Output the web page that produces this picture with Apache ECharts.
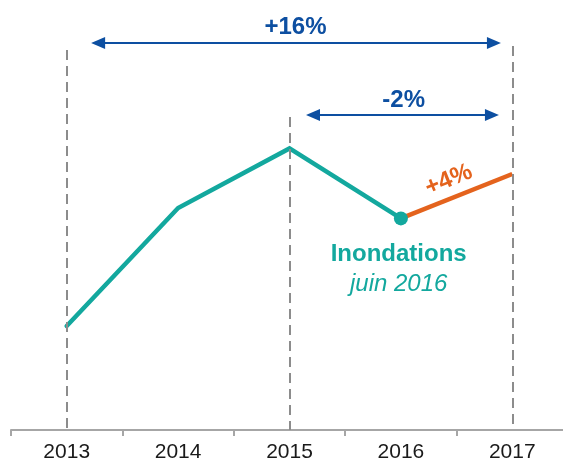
<!DOCTYPE html>
<html>
<head>
<meta charset="utf-8">
<script src="https://cdn.jsdelivr.net/npm/echarts@6/dist/echarts.min.js"></script>
<style>
html,body{margin:0;padding:0;background:#fff;overflow:hidden;}
#chart{width:568px;height:463px;}
</style>
</head>
<body>
<div id="chart"></div>
<script>
// ---- data ----
var years = ['2013', '2014', '2015', '2016', '2017'];
var trendValues = [26, 55.5, 70.4, 52.9, null];
var recentValues = [null, null, null, 52.9, 64];
var eventPoint = ['2016', 52.9];
// reference guides: [x index, top value]
var guideLines = [[0, 95], [2, 78.25], [4, 96]];
// arrows: [x start, x end, level]
var arrow16 = [0.282, 3.835, 96.75];
var arrow2 = [2.211, 3.817, 78.75];
// annotation labels: [x, y, text]
var labelGrowth16 = [2.054, 100.75, '+16%'];
var labelGrowth2 = [3.025, 82.5, '-2%'];
var labelGrowth4 = [3.43, 62.5, '+4%'];
var labelEvent = [2.98, 44, 'Inondations'];
var labelEventDate = [2.98, 36.5, 'juin 2016'];

var TEAL = '#13a89e';
var ORANGE = '#e4631d';
var BLUE = '#0d4fa1';
var GREY = '#8c8c8c';
var FONT = '"Liberation Sans", Arial, sans-serif';

var chart = echarts.init(document.getElementById('chart'), null, {renderer: 'canvas'});

function textPoint(p, style) {
  return {
    coord: [p[0], p[1]],
    symbol: 'circle',
    symbolSize: 1,
    itemStyle: {color: 'rgba(0,0,0,0)'},
    label: Object.assign({
      show: true,
      position: 'inside',
      formatter: p[2],
      fontFamily: FONT
    }, style)
  };
}

var option = {
  animation: false,
  backgroundColor: '#ffffff',
  grid: {left: 11, right: 0, top: 0, bottom: 33},
  xAxis: [{
    type: 'category',
    data: years,
    boundaryGap: true,
    axisLine: {lineStyle: {color: '#a6a6a6', width: 2}},
    axisTick: {show: true, length: 6, lineStyle: {color: '#a6a6a6', width: 2}},
    axisLabel: {color: '#1a1a1a', fontSize: 21, fontFamily: FONT, margin: 12},
    splitLine: {show: false}
  }, {
    type: 'value',
    min: -0.5,
    max: 4.5,
    show: false
  }],
  yAxis: {
    type: 'value',
    min: 0,
    max: 107.5,
    show: false
  },
  series: [
    {
      type: 'line',
      xAxisIndex: 1,
      data: [],
      z: 1,
      markLine: {
        silent: true,
        symbol: ['none', 'none'],
        label: {show: false},
        lineStyle: {color: GREY, width: 2, type: [10, 6]},
        data: guideLines.map(function (g) {
          return [{coord: [g[0], g[1]]}, {coord: [g[0], 0]}];
        })
      }
    },
    {
      type: 'line',
      xAxisIndex: 1,
      data: [],
      z: 2,
      markLine: {
        silent: true,
        symbol: ['triangle', 'triangle'],
        symbolSize: [12, 14],
        label: {show: false},
        lineStyle: {color: BLUE, width: 2, type: 'solid'},
        itemStyle: {color: BLUE},
        data: [
          [{coord: [arrow16[0], arrow16[2]]}, {coord: [arrow16[1], arrow16[2]]}],
          [{coord: [arrow2[0], arrow2[2]]}, {coord: [arrow2[1], arrow2[2]]}]
        ]
      },
      markPoint: {
        silent: true,
        data: [
          textPoint(labelGrowth16, {color: BLUE, fontSize: 24, fontWeight: 'bold'}),
          textPoint(labelGrowth2, {color: BLUE, fontSize: 24, fontWeight: 'bold'}),
          textPoint(labelGrowth4, {color: ORANGE, fontSize: 24, fontWeight: 'bold', rotate: 22}),
          textPoint(labelEvent, {color: TEAL, fontSize: 24, fontWeight: 'bold'}),
          textPoint(labelEventDate, {color: TEAL, fontSize: 24, fontStyle: 'italic'})
        ]
      }
    },
    {
      type: 'line',
      data: trendValues,
      symbol: 'none',
      z: 3,
      lineStyle: {color: TEAL, width: 4.5, cap: 'round', join: 'miter'}
    },
    {
      type: 'line',
      data: recentValues,
      symbol: 'none',
      z: 3,
      lineStyle: {color: ORANGE, width: 4.5}
    },
    {
      type: 'scatter',
      data: [eventPoint],
      symbolSize: 14,
      z: 4,
      itemStyle: {color: TEAL, opacity: 1}
    }
  ]
};
chart.setOption(option);
</script>
</body>
</html>
